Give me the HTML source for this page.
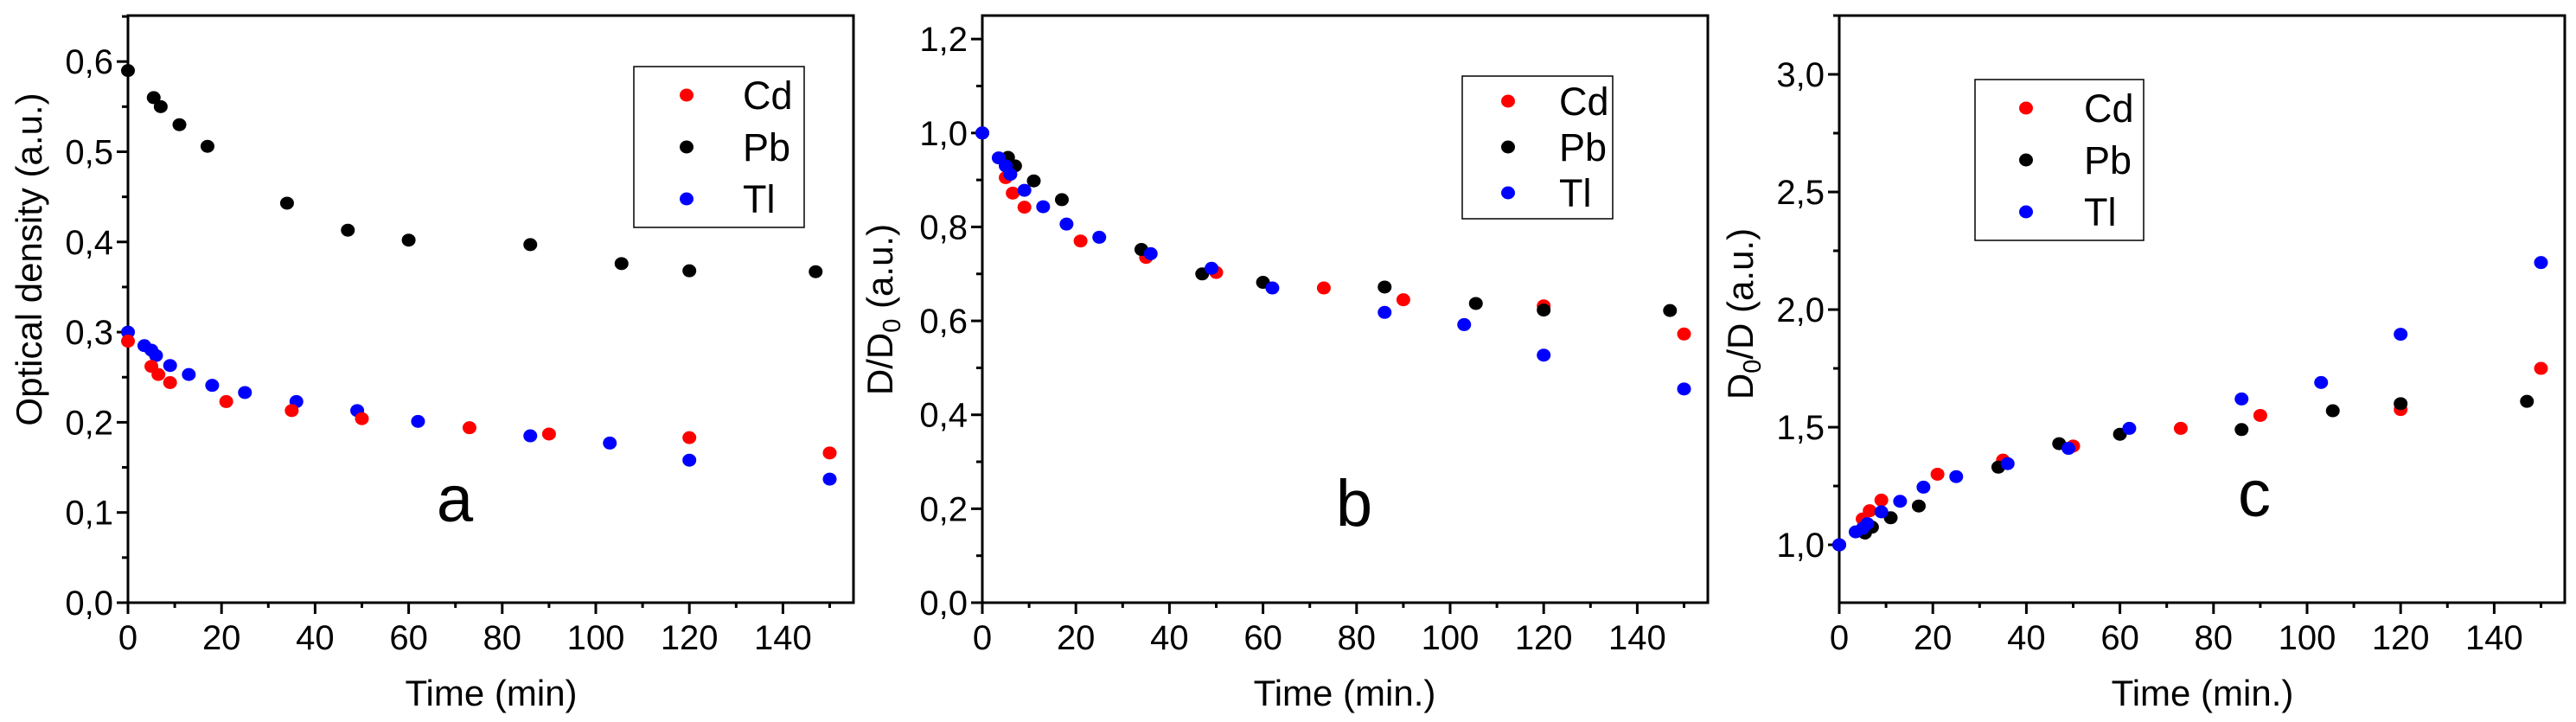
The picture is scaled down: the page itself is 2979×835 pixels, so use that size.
<!DOCTYPE html>
<html><head><meta charset="utf-8"><style>
html,body{margin:0;padding:0;background:#fff;}
svg{display:block;font-family:"Liberation Sans",Arial,sans-serif;}
</style></head><body>
<svg id="fig" width="2979" height="835" viewBox="0 0 2979 835" xmlns="http://www.w3.org/2000/svg"></svg>
<script>
// Shared time categories
const timeA_Cd = [0,5,6.5,9,21,35,50,73,90,120,150];
const timeA_Pb = [0,5.5,7,11,17,34,47,60,86,105.5,120,147];
const timeA_Tl = [0,3.5,5,6,9,13,18,25,36,49,62,86,103,120,150];
// Panel a values
const aCd = [0.29,0.262,0.253,0.244,0.223,0.213,0.204,0.194,0.187,0.183,0.166];
const aPb = [0.59,0.56,0.55,0.53,0.506,0.443,0.413,0.402,0.397,0.376,0.368,0.367];
const aTl = [0.30,0.285,0.28,0.274,0.263,0.253,0.241,0.233,0.223,0.213,0.201,0.185,0.177,0.158,0.137];
// Panel b values
const bCd = [1.0,0.905,0.872,0.842,0.77,0.735,0.703,0.67,0.645,0.632,0.572];
const bPb = [1.0,0.948,0.93,0.898,0.858,0.752,0.70,0.682,0.672,0.637,0.623,0.622];
const bTl = [1.0,0.947,0.93,0.912,0.878,0.843,0.806,0.778,0.743,0.712,0.67,0.618,0.592,0.527,0.455];
// Panel c values
const cCd = [1.0,1.11,1.145,1.19,1.30,1.36,1.42,1.495,1.55,1.575,1.75];
const cPb = [1.0,1.05,1.075,1.115,1.165,1.33,1.43,1.47,1.49,1.57,1.60,1.61];
const cTl = [1.0,1.055,1.07,1.09,1.14,1.185,1.245,1.29,1.345,1.41,1.495,1.62,1.69,1.895,2.2];
// Tick labels
const xTicks = [0,20,40,60,80,100,120,140];
const aYTicks = ["0,0","0,1","0,2","0,3","0,4","0,5","0,6"];
const bYTicks = ["0,0","0,2","0,4","0,6","0,8","1,0","1,2"];
const cYTicks = ["1,0","1,5","2,0","2,5","3,0"];
const seriesNames = ["Cd","Pb","Tl"];
const colors = {Cd:"#ff0000",Pb:"#000000",Tl:"#0000ff"};

const NS="http://www.w3.org/2000/svg";
const svg=document.getElementById('fig');
function mk(tag,attrs,parent){const e=document.createElementNS(NS,tag);for(const k in attrs)e.setAttribute(k,attrs[k]);(parent||svg).appendChild(e);return e;}

function panel(cfg){
  const g=mk('g',{});
  
  
  const L=cfg.left,R=cfg.right,T=18,B=697;
  const xs=v=>L+(v-0)*cfg.per20/20;
  const ys=v=>B-(v-cfg.ymin)/(cfg.ymax-cfg.ymin)*(B-T);
  const fr=mk('rect',{x:L,y:T,width:R-L,height:B-T,fill:'none',stroke:'#000','stroke-width':3},g);
  
  
  for(let v=0;v<=150;v+=10){
    const major=v%20===0;
    mk('line',{x1:xs(v),x2:xs(v),y1:B,y2:B+(major?13:6),stroke:'#000','stroke-width':3},g);
  }
  xTicks.forEach(v=>{
    const t=mk('text',{x:xs(v),y:751,'font-size':40,'text-anchor':'middle'},g);
    t.textContent=v;
    
    
  });
  // y ticks anchored at ystart
  for(let k=-20;k<=40;k++){
    const v=cfg.ystart+k*cfg.minor;
    if(v<cfg.ymin-1e-9||v>cfg.ymax+1e-9) continue;
    const major=(k%Math.round(cfg.major/cfg.minor))===0;
    mk('line',{x1:L,x2:L-(major?13:7),y1:ys(v),y2:ys(v),stroke:'#000','stroke-width':3},g);
  }
  cfg.yLabels.forEach((s,i)=>{
    const v=cfg.ystart+i*cfg.major;
    const t=mk('text',{x:L-17,y:ys(v)+14,'font-size':40,'text-anchor':'end'},g);
    t.textContent=s;
    
    
  });
  const xt=mk('text',{x:cfg.xtx,y:816,'font-size':42,'text-anchor':'middle'},g);
  xt.textContent=cfg.xtitle;
  
  
  const yt=mk('text',{x:0,y:0,'font-size':42,'text-anchor':'middle',transform:`translate(${cfg.ytx},${cfg.yty}) rotate(-90)`},g);
  yt.innerHTML=cfg.ytitle;
  
  
  const pl=mk('text',{x:cfg.lx,y:cfg.ly,'font-size':76,'text-anchor':'middle'},g);
  pl.textContent=cfg.id;
  
  
  cfg.series.forEach(s=>{
    s.y.forEach((v,i)=>{
      const c=mk('ellipse',{cx:xs(s.x[i]),cy:ys(v),rx:8,ry:7.5,fill:colors[s.name]},g);
      
      
    });
  });
  const lg=mk('g',{},g);
  
  
  mk('rect',{x:cfg.lgx,y:cfg.lgy,width:cfg.lgw,height:cfg.lgh,fill:'#fff',stroke:'#000','stroke-width':1.5},lg);
  seriesNames.forEach((n,i)=>{
    const cy=cfg.lgy+cfg.row0+i*cfg.rowh;
    const m=mk('ellipse',{cx:cfg.lgx+cfg.mkx,cy:cy,rx:8,ry:7.5,fill:colors[n]},lg);
    
    
    const t=mk('text',{x:cfg.lgx+cfg.tx,y:cy+16,'font-size':45},lg);
    t.textContent=n;
    
    
  });
}

panel({id:'a',left:148,right:987,per20:108.2,ymin:0,ymax:0.651,ystart:0,major:0.1,minor:0.05,yLabels:aYTicks,
  xtitle:'Time (min)',xtx:568,ytx:48,yty:300,ytitle:'Optical density (a.u.)',lx:526,ly:603,
  lgx:733,lgy:77,lgw:197,lgh:186,mkx:61,tx:126,row0:33,rowh:60,
  series:[{name:'Tl',x:timeA_Tl,y:aTl},{name:'Cd',x:timeA_Cd,y:aCd},{name:'Pb',x:timeA_Pb,y:aPb}]});
panel({id:'b',left:1136,right:1975,per20:108.2,ymin:0,ymax:1.25,ystart:0,major:0.2,minor:0.1,yLabels:bYTicks,
  xtitle:'Time (min.)',xtx:1555,ytx:1032,yty:358,ytitle:'D/D<tspan font-size="29" dy="9">0</tspan><tspan dy="-9"> (a.u.)</tspan>',lx:1566,ly:608,
  lgx:1691,lgy:88,lgw:174,lgh:165,mkx:53,tx:112,row0:29,rowh:53,
  series:[{name:'Cd',x:timeA_Cd,y:bCd},{name:'Pb',x:timeA_Pb,y:bPb},{name:'Tl',x:timeA_Tl,y:bTl}]});
panel({id:'c',left:2127,right:2966,per20:108.2,ymin:0.754,ymax:3.25,ystart:1.0,major:0.5,minor:0.25,yLabels:cYTicks,
  xtitle:'Time (min.)',xtx:2547,ytx:2027,yty:363,ytitle:'D<tspan font-size="29" dy="9">0</tspan><tspan dy="-9">/D (a.u.)</tspan>',lx:2607,ly:597,
  lgx:2284,lgy:92,lgw:195,lgh:186,mkx:59,tx:126,row0:33,rowh:60,
  series:[{name:'Cd',x:timeA_Cd,y:cCd},{name:'Pb',x:timeA_Pb,y:cPb},{name:'Tl',x:timeA_Tl,y:cTl}]});
</script>
</body></html>
